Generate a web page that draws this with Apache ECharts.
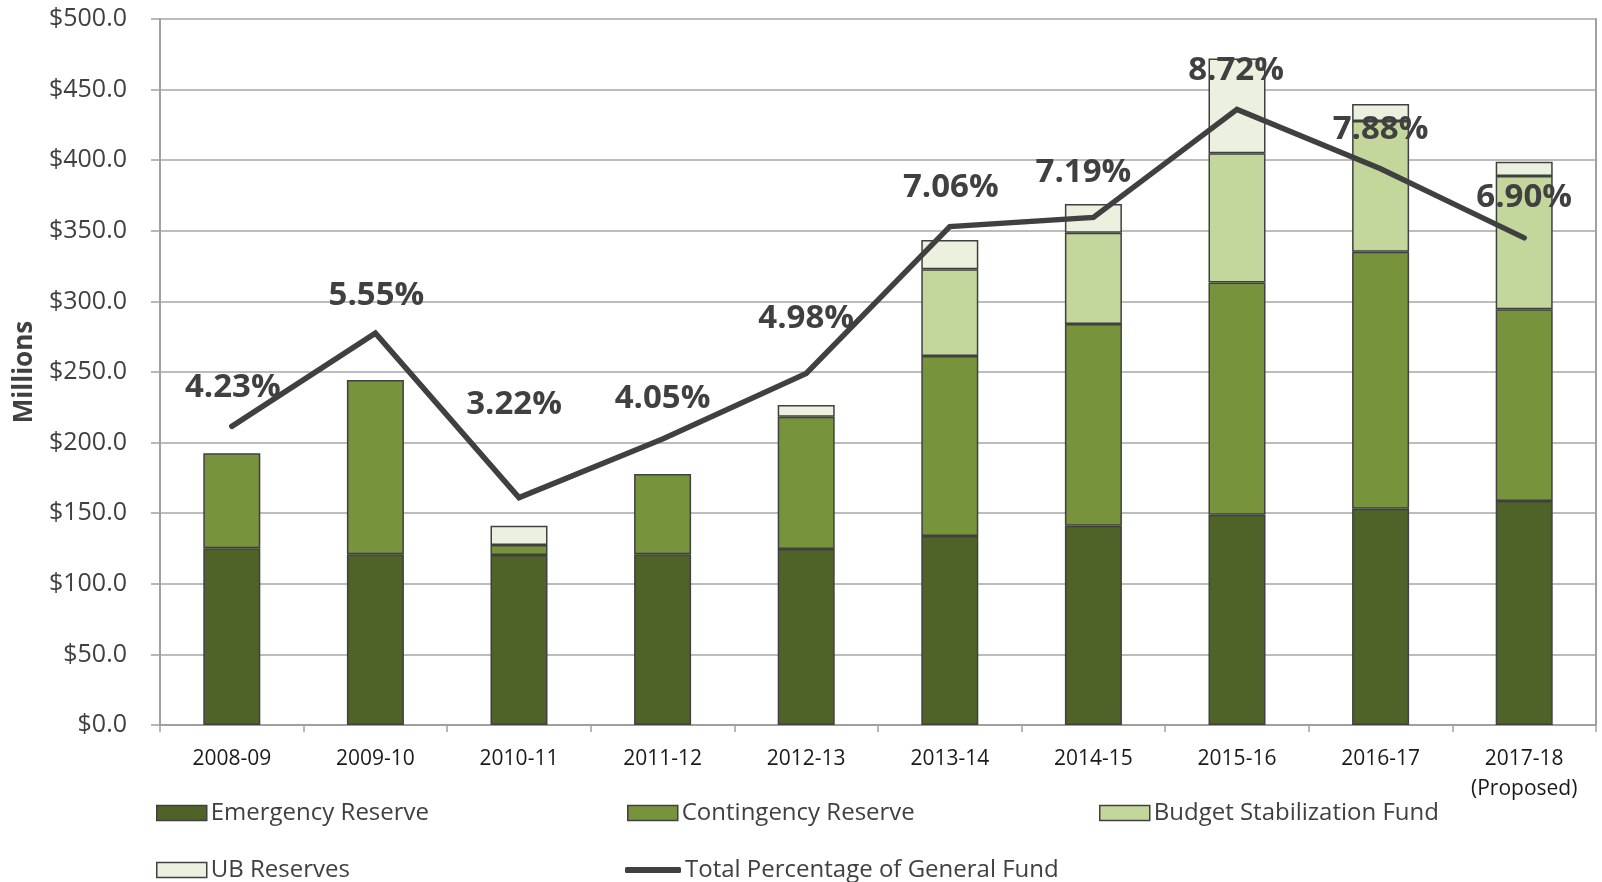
<!DOCTYPE html>
<html><head><meta charset="utf-8">
<script src="https://cdn.jsdelivr.net/npm/echarts@6/dist/echarts.min.js"></script>
<style>html,body{margin:0;padding:0;background:#fff}#c{width:1602px;height:882px}</style>
</head><body><div id="c"></div>
<script>
// ---- data ----
const categories = ['2008-09','2009-10','2010-11','2011-12','2012-13','2013-14','2014-15','2015-16','2016-17','2017-18\n(Proposed)'];
const emergencyReserve = [125.1, 120.9, 120.4, 120.9, 124.6, 133.9, 141.2, 148.9, 153.2, 158.6];
const contingencyReserve = [67.3, 123.4, 7.1, 56.9, 93.7, 127.4, 142.8, 164.4, 182.0, 135.8];
const budgetStabilizationFund = [0, 0, 0, 0, 0, 61.4, 64.7, 91.6, 92.6, 94.4];
const ubReserves = [0, 0, 13.6, 0, 8.3, 20.8, 20.3, 67.2, 12.0, 10.1];
const totalPercentage = [4.23, 5.55, 3.22, 4.05, 4.98, 7.06, 7.19, 8.72, 7.88, 6.90];

// label nudges (styling, not data)
const labelNudge = [[1,0],[1,1],[-5,-54],[0,-1],[0,-16],[1,0],[-10,-6],[-1,0],[0,0],[0,-1]];

const FONT = "'Open Sans', sans-serif";
const BORDER = '#404040';
const toBar = a => a.map(v => v === 0 ? null : v);

function barSeries(name, data, color) {
  return {
    name, type: 'bar', stack: 'total', data: toBar(data), barWidth: 57,
    itemStyle: { color, borderColor: BORDER, borderWidth: 1.5 },
    emphasis: { disabled: true }
  };
}

function legendAt(name, left, top, extra) {
  return Object.assign({
    data: [name], left, top, orient: 'horizontal',
    itemWidth: 50, itemHeight: 15, itemGap: 0,
    icon: 'rect', selectedMode: false,
    textStyle: { fontFamily: FONT, fontSize: 24, color: '#404040', lineHeight: 26, padding: [0,0,0,-1] },
    itemStyle: { borderColor: BORDER, borderWidth: 1.5 }
  }, extra || {});
}

const chart = echarts.init(document.getElementById('c'), null, { renderer: 'canvas' });
chart.setOption({
  backgroundColor: '#ffffff',
  animation: false,
  grid: { left: 160, right: 6, top: 19, bottom: 157, containLabel: false, outerBoundsMode: 'none' },
  legend: [
    legendAt('Emergency Reserve', 151, 795),
    legendAt('Contingency Reserve', 622, 795),
    legendAt('Budget Stabilization Fund', 1094, 795),
    legendAt('UB Reserves', 151, 852),
    legendAt('Total Percentage of General Fund', 620, 852, {
      icon: 'roundRect', itemWidth: 56, itemHeight: 6,
      itemStyle: { color: '#404040', borderWidth: 0, opacity: 1 }
    })
  ],
  xAxis: {
    type: 'category', data: categories, boundaryGap: true,
    axisLine: { show: true, lineStyle: { color: '#a0a0a0', width: 2 } },
    axisTick: { show: true, alignWithLabel: false, length: 7, lineStyle: { color: '#a0a0a0', width: 1.5 } },
    axisLabel: { interval: 0, margin: 19, fontFamily: FONT, fontSize: 21, color: '#1a1a1a', lineHeight: 30 }
  },
  yAxis: [
    {
      type: 'value', min: 0, max: 500, interval: 50,
      name: 'Millions', nameLocation: 'middle', nameGap: 122, nameRotate: 90,
      nameTextStyle: { fontFamily: FONT, fontSize: 26, fontWeight: 'bold', color: '#404040' },
      axisLine: { show: true, lineStyle: { color: '#a0a0a0', width: 2 } },
      axisTick: { show: true, length: 9, inside: false, lineStyle: { color: '#a0a0a0', width: 1.5 } },
      splitLine: { show: true, lineStyle: { color: '#a6a6a6', width: 1.5 } },
      axisLabel: { margin: 33, fontFamily: FONT, fontSize: 25, color: '#404040', formatter: v => '$' + v.toFixed(1) }
    },
    {
      type: 'value', min: 0, max: 10, interval: 1, position: 'right',
      axisLine: { show: true, lineStyle: { color: '#a0a0a0', width: 2 } },
      axisTick: { show: false }, axisLabel: { show: false }, splitLine: { show: false }
    }
  ],
  series: [
    barSeries('Emergency Reserve', emergencyReserve, '#4f6228'),
    barSeries('Contingency Reserve', contingencyReserve, '#77933c'),
    barSeries('Budget Stabilization Fund', budgetStabilizationFund, '#c3d69b'),
    barSeries('UB Reserves', ubReserves, '#ebf1de'),
    {
      name: 'Total Percentage of General Fund', type: 'line', yAxisIndex: 1, z: 5,
      data: totalPercentage.map((v, i) => ({ value: v, label: { offset: labelNudge[i] } })),
      showSymbol: true, showAllSymbol: true, symbol: 'circle', symbolSize: 2,
      lineStyle: { color: '#404040', width: 5.5, cap: 'round', join: 'miter' },
      itemStyle: { color: '#404040', opacity: 1 },
      label: {
        show: true, position: 'top', distance: 22,
        fontFamily: FONT, fontSize: 33, fontWeight: 'bold', color: '#404040', lineHeight: 32,
        formatter: p => Number(p.value).toFixed(2) + '%'
      },
      emphasis: { disabled: true }
    }
  ]
});
</script></body></html>
